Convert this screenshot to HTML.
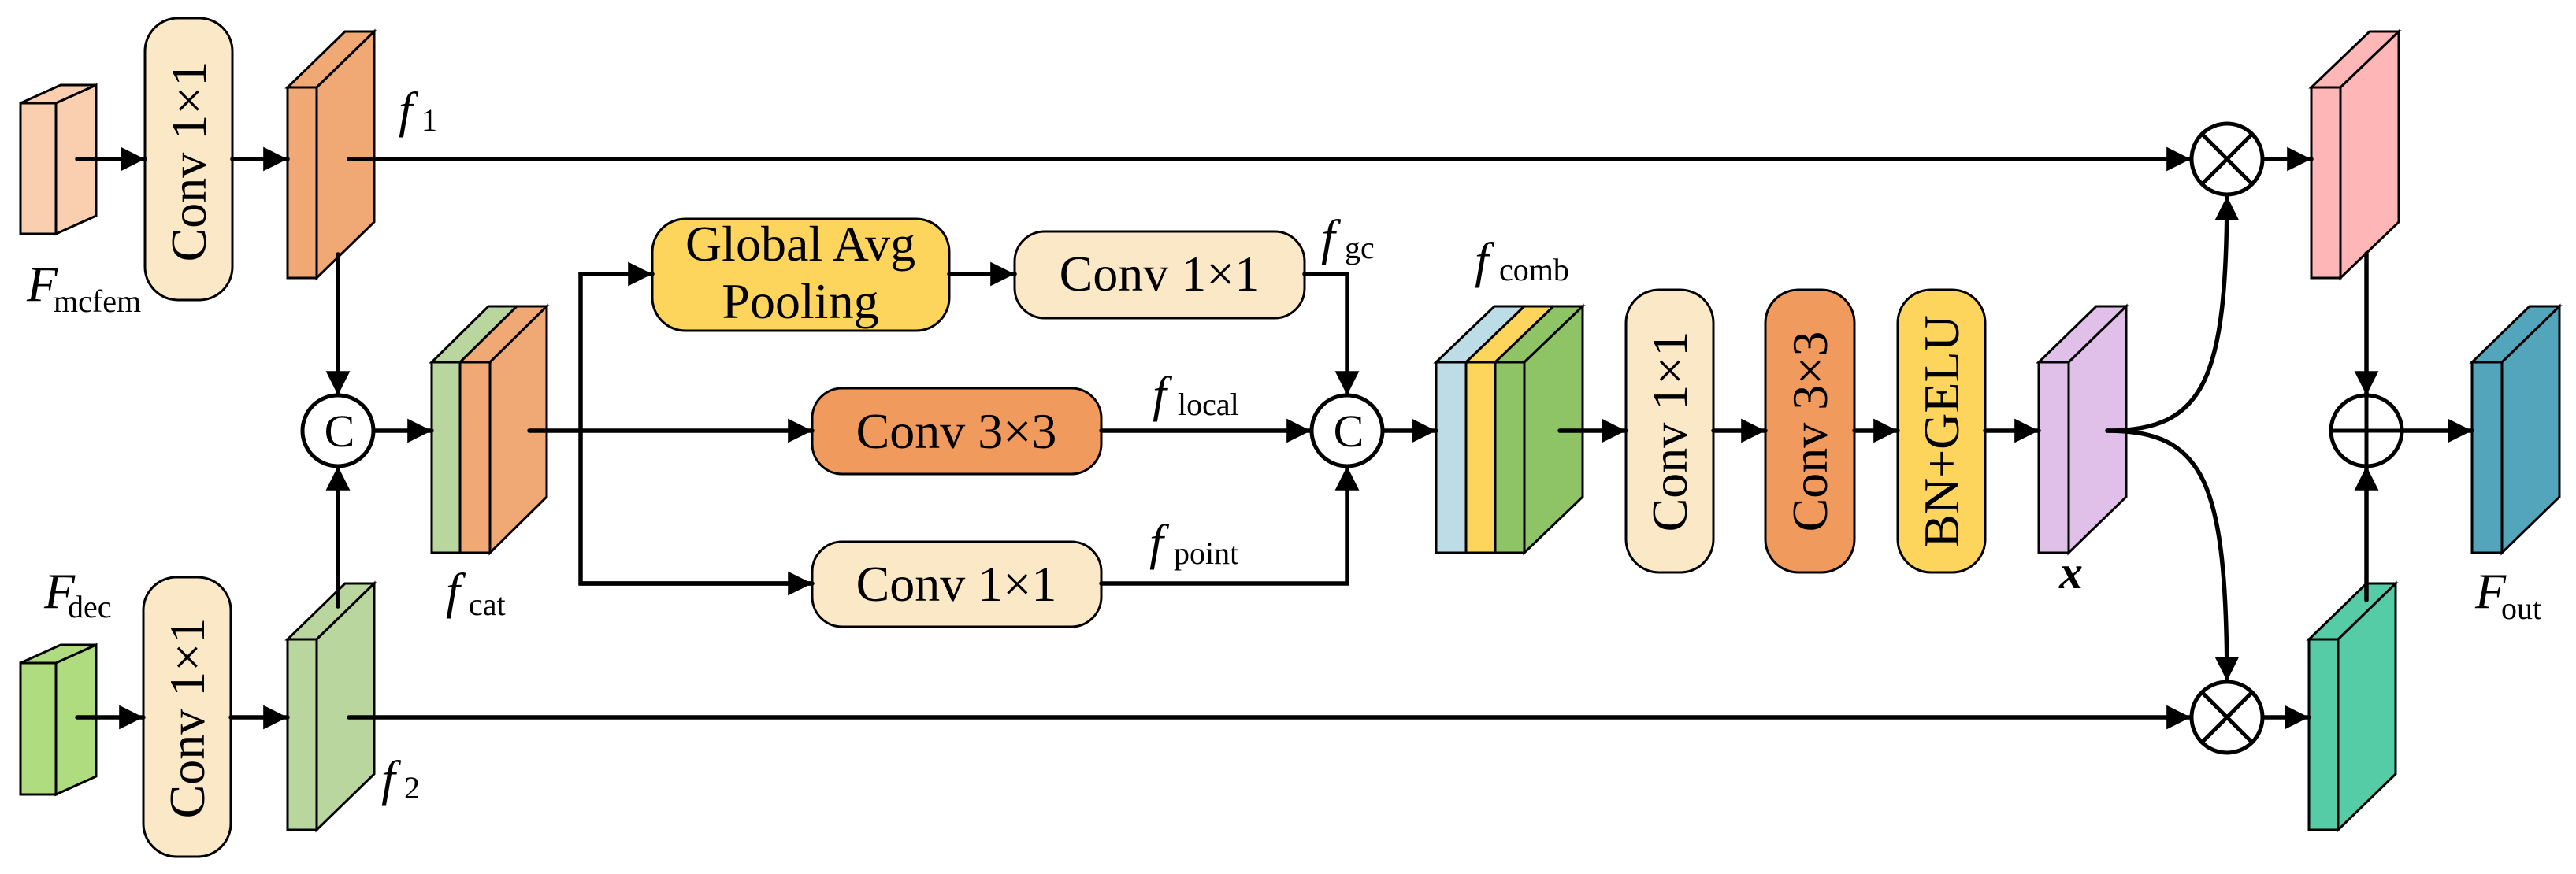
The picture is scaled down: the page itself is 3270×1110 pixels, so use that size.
<!DOCTYPE html>
<html><head><meta charset="utf-8"><style>html,body{margin:0;padding:0;background:#fff}svg{display:block}svg text{font-family:"Liberation Serif","DejaVu Serif",serif}</style></head>
<body>
<svg width="3270" height="1110" viewBox="0 0 3270 1110" xmlns="http://www.w3.org/2000/svg">
<defs>
<marker id="a" viewBox="0 0 10 10" refX="10" refY="5" markerWidth="5.6" markerHeight="5.6" markerUnits="strokeWidth" orient="auto"><path d="M0,0 L10,5 L0,10 z" fill="#000"/></marker>
</defs>
<g stroke="#000" stroke-width="3" stroke-linejoin="miter">
<polygon points="26,131 71,131 122,108 77,108" fill="#f9cfb0"/>
<polygon points="71,131 122,108 122,274 71,297" fill="#f9cfb0"/>
<rect x="26" y="131" width="45" height="166" fill="#f9cfb0"/>
<polygon points="26,842 71,842 122,819 77,819" fill="#b0dc80"/>
<polygon points="71,842 122,819 122,986 71,1009" fill="#b0dc80"/>
<rect x="26" y="842" width="45" height="167" fill="#b0dc80"/>
<polygon points="365,111 402,111 475,40 438,40" fill="#f0a874"/>
<polygon points="402,111 475,40 475,282 402,353" fill="#f0a874"/>
<rect x="365" y="111" width="37" height="242" fill="#f0a874"/>
<polygon points="365,812 402,812 475,741 438,741" fill="#b9d69e"/>
<polygon points="402,812 475,741 475,983 402,1054" fill="#b9d69e"/>
<rect x="365" y="812" width="37" height="242" fill="#b9d69e"/>
<polygon points="548,460 584,460 656,389 620,389" fill="#b9d69e"/>
<rect x="548" y="460" width="36" height="242" fill="#b9d69e"/>
<polygon points="584,460 622,460 694,389 656,389" fill="#f0a874"/>
<polygon points="622,460 694,389 694,631 622,702" fill="#f0a874"/>
<rect x="584" y="460" width="38" height="242" fill="#f0a874"/>
<polygon points="1823,460 1861,460 1935,389 1897,389" fill="#bcdde5"/>
<rect x="1823" y="460" width="38" height="242" fill="#bcdde5"/>
<polygon points="1861,460 1898,460 1972,389 1935,389" fill="#fdd55c"/>
<rect x="1861" y="460" width="37" height="242" fill="#fdd55c"/>
<polygon points="1898,460 1935,460 2009,389 1972,389" fill="#8fc466"/>
<polygon points="1935,460 2009,389 2009,631 1935,702" fill="#8fc466"/>
<rect x="1898" y="460" width="37" height="242" fill="#8fc466"/>
<polygon points="2588,460 2626,460 2699,389 2661,389" fill="#e0c0e8"/>
<polygon points="2626,460 2699,389 2699,631 2626,702" fill="#e0c0e8"/>
<rect x="2588" y="460" width="38" height="242" fill="#e0c0e8"/>
<polygon points="2934,111 2971,111 3045,40 3008,40" fill="#ffb6b6"/>
<polygon points="2971,111 3045,40 3045,282 2971,353" fill="#ffb6b6"/>
<rect x="2934" y="111" width="37" height="242" fill="#ffb6b6"/>
<polygon points="2931,812 2968,812 3041,741 3004,741" fill="#55cca6"/>
<polygon points="2968,812 3041,741 3041,983 2968,1054" fill="#55cca6"/>
<rect x="2931" y="812" width="37" height="242" fill="#55cca6"/>
<polygon points="3138,460 3176,460 3249,389 3211,389" fill="#52a5bb"/>
<polygon points="3176,460 3249,389 3249,631 3176,702" fill="#52a5bb"/>
<rect x="3138" y="460" width="38" height="242" fill="#52a5bb"/>

<rect x="184" y="23" width="111" height="358" rx="42" fill="#fae8c6"/>
<rect x="182" y="733" width="111" height="355" rx="42" fill="#fae8c6"/>
<rect x="828" y="278" width="377" height="142" rx="42" fill="#fdd55c"/>
<rect x="1288" y="294" width="368" height="110" rx="38" fill="#fae8c6"/>
<rect x="1031" y="493" width="367" height="109" rx="38" fill="#f09a5e"/>
<rect x="1031" y="688" width="367" height="108" rx="38" fill="#fae8c6"/>
<rect x="2064" y="368" width="111" height="359" rx="42" fill="#fae8c6"/>
<rect x="2241" y="368" width="113" height="359" rx="42" fill="#f09a5e"/>
<rect x="2409" y="368" width="111" height="359" rx="42" fill="#fdd55c"/>
</g>

<g stroke="#000" stroke-width="5.5" fill="none" stroke-linecap="round">
<line x1="98" y1="202" x2="184" y2="202" marker-end="url(#a)"/>
<line x1="295" y1="202" x2="365" y2="202" marker-end="url(#a)"/>
<line x1="98" y1="911" x2="182" y2="911" marker-end="url(#a)"/>
<line x1="293" y1="911" x2="365" y2="911" marker-end="url(#a)"/>
<line x1="429" y1="323" x2="429" y2="502" marker-end="url(#a)"/>
<line x1="429" y1="770" x2="429" y2="592" marker-end="url(#a)"/>
<line x1="475" y1="547" x2="548" y2="547" marker-end="url(#a)"/>
<line x1="672" y1="547" x2="1031" y2="547" marker-end="url(#a)"/>
<polyline points="828,348 737,348 737,741 1031,741" stroke-linecap="butt" stroke-linejoin="miter"/>
<line x1="737" y1="348" x2="828" y2="348" marker-end="url(#a)"/>
<line x1="737" y1="741" x2="1031" y2="741" marker-end="url(#a)"/>
<line x1="1205" y1="348" x2="1288" y2="348" marker-end="url(#a)"/>
<polyline points="1656,348 1710,348 1710,502" stroke-linejoin="miter" marker-end="url(#a)"/>
<line x1="1398" y1="547" x2="1664" y2="547" marker-end="url(#a)"/>
<polyline points="1398,741 1710,741 1710,592" stroke-linejoin="miter" marker-end="url(#a)"/>
<line x1="1756" y1="547" x2="1823" y2="547" marker-end="url(#a)"/>
<line x1="1980" y1="547" x2="2064" y2="547" marker-end="url(#a)"/>
<line x1="2175" y1="547" x2="2241" y2="547" marker-end="url(#a)"/>
<line x1="2354" y1="547" x2="2409" y2="547" marker-end="url(#a)"/>
<line x1="2520" y1="547" x2="2588" y2="547" marker-end="url(#a)"/>
<line x1="443" y1="202" x2="2781" y2="202" marker-end="url(#a)"/>
<line x1="443" y1="911" x2="2781" y2="911" marker-end="url(#a)"/>
<line x1="2873" y1="202" x2="2934" y2="202" marker-end="url(#a)"/>
<line x1="2873" y1="911" x2="2931" y2="911" marker-end="url(#a)"/>
<line x1="3004" y1="322" x2="3004" y2="502" marker-end="url(#a)"/>
<line x1="3004" y1="762" x2="3004" y2="592" marker-end="url(#a)"/>
<line x1="3050" y1="547" x2="3138" y2="547" marker-end="url(#a)"/>
<path d="M2675,547 C2800,547 2826,480 2827,249" marker-end="url(#a)"/>
<path d="M2675,547 C2800,547 2826,614 2827,865" marker-end="url(#a)"/>
</g>

<g stroke="#000" stroke-width="5" fill="#fff">
<circle cx="429" cy="547" r="45"/>
<circle cx="1710" cy="547" r="45"/>
<circle cx="2827" cy="202" r="45"/>
<circle cx="2827" cy="911" r="45"/>
<circle cx="3004" cy="547" r="45"/>
</g>
<g stroke="#000" stroke-width="5">
<line x1="2795" y1="170" x2="2859" y2="234"/><line x1="2859" y1="170" x2="2795" y2="234"/>
<line x1="2795" y1="879" x2="2859" y2="943"/><line x1="2859" y1="879" x2="2795" y2="943"/>
<line x1="2959" y1="547" x2="3049" y2="547"/><line x1="3004" y1="502" x2="3004" y2="592"/>
</g>
<g font-size="58" text-anchor="middle">
<text x="431" y="567">C</text>
<text x="1712" y="567">C</text>
</g>

<g font-size="64" text-anchor="middle" fill="#000">
<text transform="translate(261,205) rotate(-90)">Conv 1×1</text>
<text transform="translate(259,912) rotate(-90)">Conv 1×1</text>
<text x="1016" y="331">Global Avg</text>
<text x="1016" y="404">Pooling</text>
<text x="1472" y="369">Conv 1×1</text>
<text x="1214" y="569">Conv 3×3</text>
<text x="1214" y="763">Conv 1×1</text>
<text transform="translate(2141,548) rotate(-90)">Conv 1×1</text>
<text transform="translate(2319,548) rotate(-90)">Conv 3×3</text>
<text transform="translate(2486,548) rotate(-90)">BN+GELU</text>
</g>

<g fill="#000">
<text x="34" y="382" font-size="64" font-style="italic">F</text><text x="68" y="396" font-size="40">mcfem</text>
<text x="56" y="772" font-size="64" font-style="italic">F</text><text x="86" y="784" font-size="40">dec</text>
<text x="506" y="161" font-size="64" font-style="italic">f</text><text x="535" y="166" font-size="40">1</text>
<text x="484" y="1010" font-size="64" font-style="italic">f</text><text x="513" y="1014" font-size="40">2</text>
<text x="566" y="772" font-size="64" font-style="italic">f</text><text x="595" y="781" font-size="40">cat</text>
<text x="1677" y="323" font-size="64" font-style="italic">f</text><text x="1707" y="328" font-size="40">gc</text>
<text x="1872" y="352" font-size="64" font-style="italic">f</text><text x="1903" y="356" font-size="40">comb</text>
<text x="1463" y="522" font-size="64" font-style="italic">f</text><text x="1495" y="527" font-size="40">local</text>
<text x="1459" y="710" font-size="64" font-style="italic">f</text><text x="1490" y="716" font-size="40">point</text>
<text x="2614" y="747" font-size="60" font-style="italic" font-weight="bold">x</text>
<text x="3142" y="772" font-size="64" font-style="italic">F</text><text x="3175" y="786" font-size="40">out</text>
</g>
</svg>
</body></html>
